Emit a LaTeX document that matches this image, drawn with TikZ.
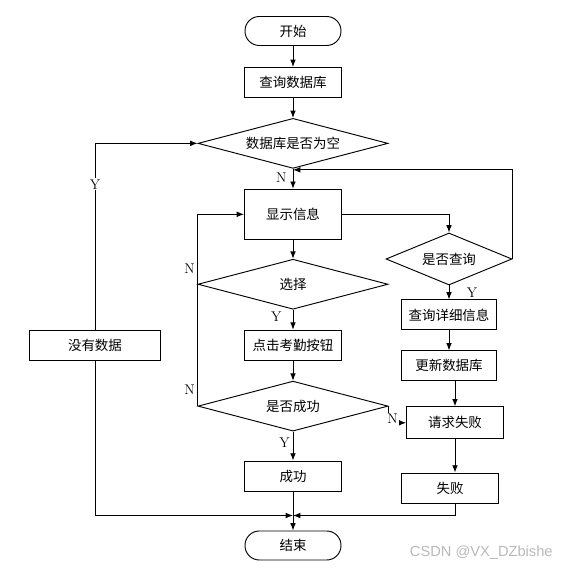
\documentclass[tikz,border=0pt]{standalone}
\usepackage{fontspec}
\newfontfamily\cjk{Noto Sans CJK SC}
\newfontfamily\wmfont{Liberation Sans}
\usetikzlibrary{shapes.geometric, arrows.meta, positioning, calc}

\begin{document}
\begin{tikzpicture}[
      thick,
      cntext/.style={font=\cjk\fontsize{11.5}{13}\selectfont},
      terminal/.style={rectangle, draw, cntext, rounded corners=0.43cm,
                       minimum width=2.88cm, minimum height=0.87cm},
      block/.style={rectangle, draw, cntext, minimum width=2.91cm,
                    minimum height=0.9cm},
      decision/.style={diamond, draw, cntext, inner sep=0pt, aspect=3.8,
                       minimum width=5.7cm, minimum height=1.5cm},
      yn/.style={font=\fontsize{12}{14}\selectfont, inner sep=1pt},
      line/.style={draw, -{Latex[length=2.2mm, width=1.7mm]}}
  ]
      \useasboundingbox (0,0) rectangle (17.16,-17.13);

      % main column
      \node (start)   [terminal] at (8.79,-0.93) {开始};
      \node (query)   [block, below=0.63cm of start] {查询数据库};
      \node (empty)   [decision, below=0.6cm of query] {数据库是否为空};
      \node (display) [block, minimum height=1.5cm, below=0.6cm of empty] {显示信息};
      \node (choose)  [decision, below=0.57cm of display] {选择};
      \node (click)   [block, below=0.6cm of choose] {点击考勤按钮};
      \node (succq)   [decision, below=0.6cm of click] {是否成功};
      \node (success) [block, below=0.87cm of succq] {成功};
      \node (finish)  [terminal, below=1.17cm of success] {结束};

      % right column
      \node (ask)     [decision, minimum width=3.78cm, minimum height=1.56cm,
                       aspect=2.4] at (13.47,-7.77) {是否查询};
      \node (detail)  [block, minimum width=2.85cm, below=0.42cm of ask] {查询详细信息};
      \node (update)  [block, minimum width=2.85cm, below=0.6cm of detail] {更新数据库};
      \node (request) [block, minimum width=2.9cm, minimum height=0.96cm,
                       below=0.75cm of update, xshift=0.18cm] {请求失败};
      \node (fail)    [block, minimum width=2.9cm, below=1.0cm of request,
                       xshift=-0.15cm] {失败};

      % left column
      \node (nodata)  [block, minimum width=3.93cm] at (2.85,-10.35) {没有数据};

      \node (wmark) [anchor=east, text=gray!55, font=\wmfont\fontsize{12.5}{14}\selectfont]
          at (16.71,-16.59) {CSDN @VX\_DZbishe};

      \coordinate (back) at ([yshift=-0.03cm]empty.south);
      \coordinate (join) at ([yshift=-0.72cm]success.south);

      \path [line] (start) -- (query);
      \path [line] (query) -- (empty);
      \path [line] (empty) -- node[left, yn, pos=0.45, xshift=-0.15cm] (nEmpty) {N} (display);
      \path [line] (display) -- (choose);
      \path [line] (choose) -- node[left, yn, pos=0.35, xshift=-0.3cm] (yChoose) {Y} (click);
      \path [line] (click) -- (succq);
      \path [line] (succq) -- node[left, yn, pos=0.4, xshift=-0.05cm] (ySucc) {Y} (success);
      \path [line] (success) -- (finish);

      % N loops back to display
      \draw [line] (succq.west)
          -- node[pos=0, yn, shift={(-0.24,0.48)}] (nRetry) {N} (choose.west)
          node[yn, shift={(-0.24,0.48)}] (nBack) {N}
          |- (display.west);

      % query branch
      \draw [line] (display.east) -| (ask.north);
      \draw [line] (ask.east) |- (back);
      \path [line] (ask) -- node[yn, fill=white, xshift=0.69cm] (yAsk) {Y} (detail);
      \path [line] (detail) -- (update);
      \draw [line] (request.north |- update.south) -- (request.north);
      \draw [line] (request.south) -- (request.south |- fail.north);
      \draw [line] (succq.east) |- node[yn, fill=white, shift={(0.12,0.12)}] (nSucc) {N}
          (request.west);
      \draw [line] (request.south |- fail.south) |- (join);

      % empty database branch
      \draw [line] (nodata.north) |- node[pos=0.39, fill=white, yn] (yEmpty) {Y}
          (empty.west);
      \draw [line] (nodata.south) |- (join);
  \end{tikzpicture}
\end{document}
